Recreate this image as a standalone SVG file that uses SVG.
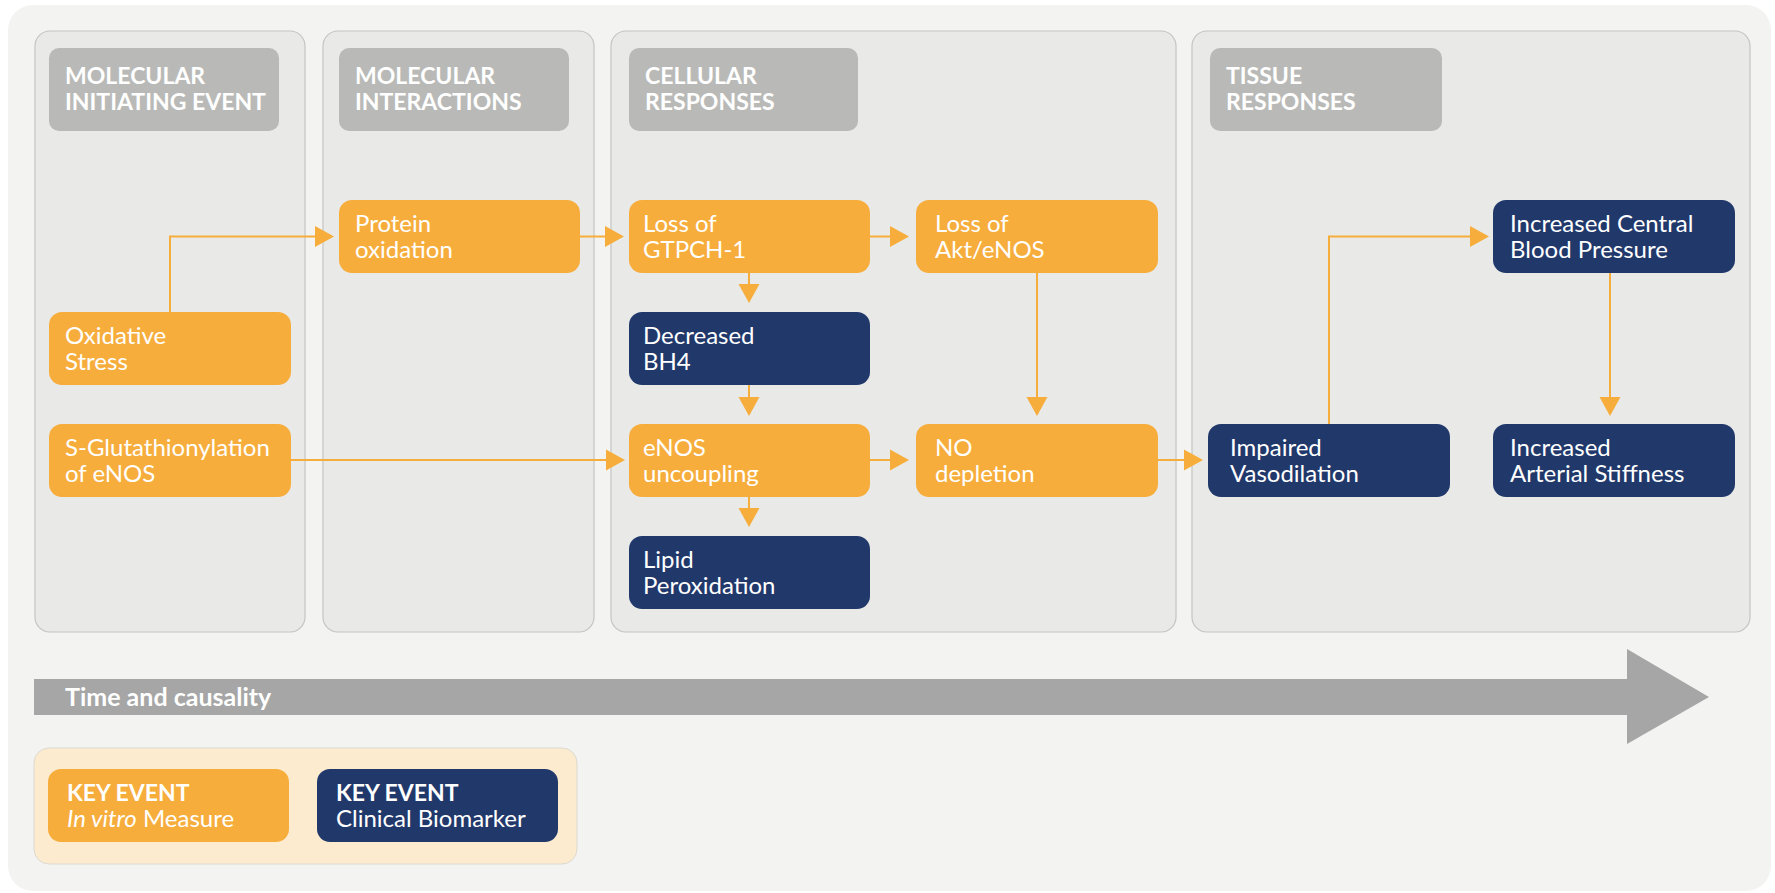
<svg xmlns="http://www.w3.org/2000/svg" width="1775" height="893" viewBox="0 0 1775 893">
  <style>
    text { font-family: Lato, "Open Sans", "Liberation Sans", sans-serif; fill: #ffffff; }
    .panel { fill: #e9eae7; stroke: #c4c5c2; stroke-width: 1.2; }
    .head { fill: #b9bab7; }
    .head-t { font-size: 23px; font-weight: 700; }
    .axis-t { font-size: 25px; font-weight: 700; }
    .ke { fill: #f6ad3c; }
    .cb { fill: #21386b; }
    .lbl { font-size: 24px; }
    .conn path { fill: none; stroke: #f6ad3c; stroke-width: 2; marker-end: url(#ah); }
  </style>
  <defs>
    <marker id="ah" markerUnits="userSpaceOnUse" markerWidth="20" markerHeight="22" refX="9" refY="11" orient="auto">
      <path d="M0,0.5 L19,11 L0,21.5 z" fill="#f6ad3c"/>
    </marker>
  </defs>

  <!-- backdrop -->
  <rect x="8" y="5" width="1763" height="886" rx="25" fill="#f3f3f1"/>

  <!-- stage columns -->
  <g id="stage-mie">
    <rect class="panel" x="35" y="31" width="270" height="601" rx="15"/>
    <rect class="head" x="49" y="48" width="230" height="83" rx="10"/>
    <text class="head-t" x="65" y="84">MOLECULAR</text>
    <text class="head-t" x="65" y="110">INITIATING EVENT</text>
  </g>
  <g id="stage-molecular">
    <rect class="panel" x="323" y="31" width="271" height="601" rx="15"/>
    <rect class="head" x="339" y="48" width="230" height="83" rx="10"/>
    <text class="head-t" x="355" y="84">MOLECULAR</text>
    <text class="head-t" x="355" y="110">INTERACTIONS</text>
  </g>
  <g id="stage-cellular">
    <rect class="panel" x="611" y="31" width="565" height="601" rx="15"/>
    <rect class="head" x="629" y="48" width="229" height="83" rx="10"/>
    <text class="head-t" x="645" y="84">CELLULAR</text>
    <text class="head-t" x="645" y="110">RESPONSES</text>
  </g>
  <g id="stage-tissue">
    <rect class="panel" x="1192" y="31" width="558" height="601" rx="15"/>
    <rect class="head" x="1210" y="48" width="232" height="83" rx="10"/>
    <text class="head-t" x="1226" y="84">TISSUE</text>
    <text class="head-t" x="1226" y="110">RESPONSES</text>
  </g>

  <!-- connectors -->
  <g id="connectors" class="conn">
    <path d="M170,312 V236.5 H324"/>
    <path d="M580,236.5 H614"/>
    <path d="M870,236.5 H899"/>
    <path d="M749,273 V293"/>
    <path d="M749,384 V406"/>
    <path d="M749,496 V517"/>
    <path d="M1037,273 V406"/>
    <path d="M291,460 H615"/>
    <path d="M870,460 H899"/>
    <path d="M1158,460 H1193"/>
    <path d="M1329,424 V236.5 H1479"/>
    <path d="M1610,273 V406"/>
  </g>

  <!-- key events -->
  <g id="oxidative-stress">
    <rect class="ke" x="49" y="312" width="242" height="73" rx="13"/>
    <text class="lbl" x="65" y="344">Oxidative</text>
    <text class="lbl" x="65" y="370">Stress</text>
  </g>
  <g id="s-glutathionylation">
    <rect class="ke" x="49" y="424" width="242" height="73" rx="13"/>
    <text class="lbl" x="65" y="456">S-Glutathionylation</text>
    <text class="lbl" x="65" y="482">of eNOS</text>
  </g>
  <g id="protein-oxidation">
    <rect class="ke" x="339" y="200" width="241" height="73" rx="13"/>
    <text class="lbl" x="355" y="232">Protein</text>
    <text class="lbl" x="355" y="258">oxidation</text>
  </g>
  <g id="loss-gtpch1">
    <rect class="ke" x="629" y="200" width="241" height="73" rx="13"/>
    <text class="lbl" x="643" y="232">Loss of</text>
    <text class="lbl" x="643" y="258">GTPCH-1</text>
  </g>
  <g id="loss-akt-enos">
    <rect class="ke" x="916" y="200" width="242" height="73" rx="13"/>
    <text class="lbl" x="935" y="232">Loss of</text>
    <text class="lbl" x="935" y="258">Akt/eNOS</text>
  </g>
  <g id="decreased-bh4">
    <rect class="cb" x="629" y="312" width="241" height="73" rx="13"/>
    <text class="lbl" x="643" y="344">Decreased</text>
    <text class="lbl" x="643" y="370">BH4</text>
  </g>
  <g id="enos-uncoupling">
    <rect class="ke" x="629" y="424" width="241" height="73" rx="13"/>
    <text class="lbl" x="643" y="456">eNOS</text>
    <text class="lbl" x="643" y="482">uncoupling</text>
  </g>
  <g id="no-depletion">
    <rect class="ke" x="916" y="424" width="242" height="73" rx="13"/>
    <text class="lbl" x="935" y="456">NO</text>
    <text class="lbl" x="935" y="482">depletion</text>
  </g>
  <g id="lipid-peroxidation">
    <rect class="cb" x="629" y="536" width="241" height="73" rx="13"/>
    <text class="lbl" x="643" y="568">Lipid</text>
    <text class="lbl" x="643" y="594">Peroxidation</text>
  </g>
  <g id="impaired-vasodilation">
    <rect class="cb" x="1208" y="424" width="242" height="73" rx="13"/>
    <text class="lbl" x="1230" y="456">Impaired</text>
    <text class="lbl" x="1230" y="482">Vasodilation</text>
  </g>
  <g id="central-blood-pressure">
    <rect class="cb" x="1493" y="200" width="242" height="73" rx="13"/>
    <text class="lbl" x="1510" y="232">Increased Central</text>
    <text class="lbl" x="1510" y="258">Blood Pressure</text>
  </g>
  <g id="arterial-stiffness">
    <rect class="cb" x="1493" y="424" width="242" height="73" rx="13"/>
    <text class="lbl" x="1510" y="456">Increased</text>
    <text class="lbl" x="1510" y="482">Arterial Stiffness</text>
  </g>

  <!-- time axis -->
  <g id="time-axis">
    <path d="M34,679 H1627 V649 L1709,697 L1627,744 V715 H34 z" fill="#a5a6a5"/>
    <text class="axis-t" x="65" y="706">Time and causality</text>
  </g>

  <!-- legend -->
  <g id="legend">
    <rect x="34" y="748" width="543" height="116" rx="15" fill="#fcebcf" stroke="#dcd9d0" stroke-width="1"/>
    <rect class="ke" x="48" y="769" width="241" height="73" rx="13"/>
    <text class="head-t" x="67" y="801">KEY EVENT</text>
    <text class="lbl" x="67" y="827"><tspan font-style="italic">In vitro</tspan> Measure</text>
    <rect class="cb" x="317" y="769" width="241" height="73" rx="13"/>
    <text class="head-t" x="336" y="801">KEY EVENT</text>
    <text class="lbl" x="336" y="827">Clinical Biomarker</text>
  </g>
</svg>
